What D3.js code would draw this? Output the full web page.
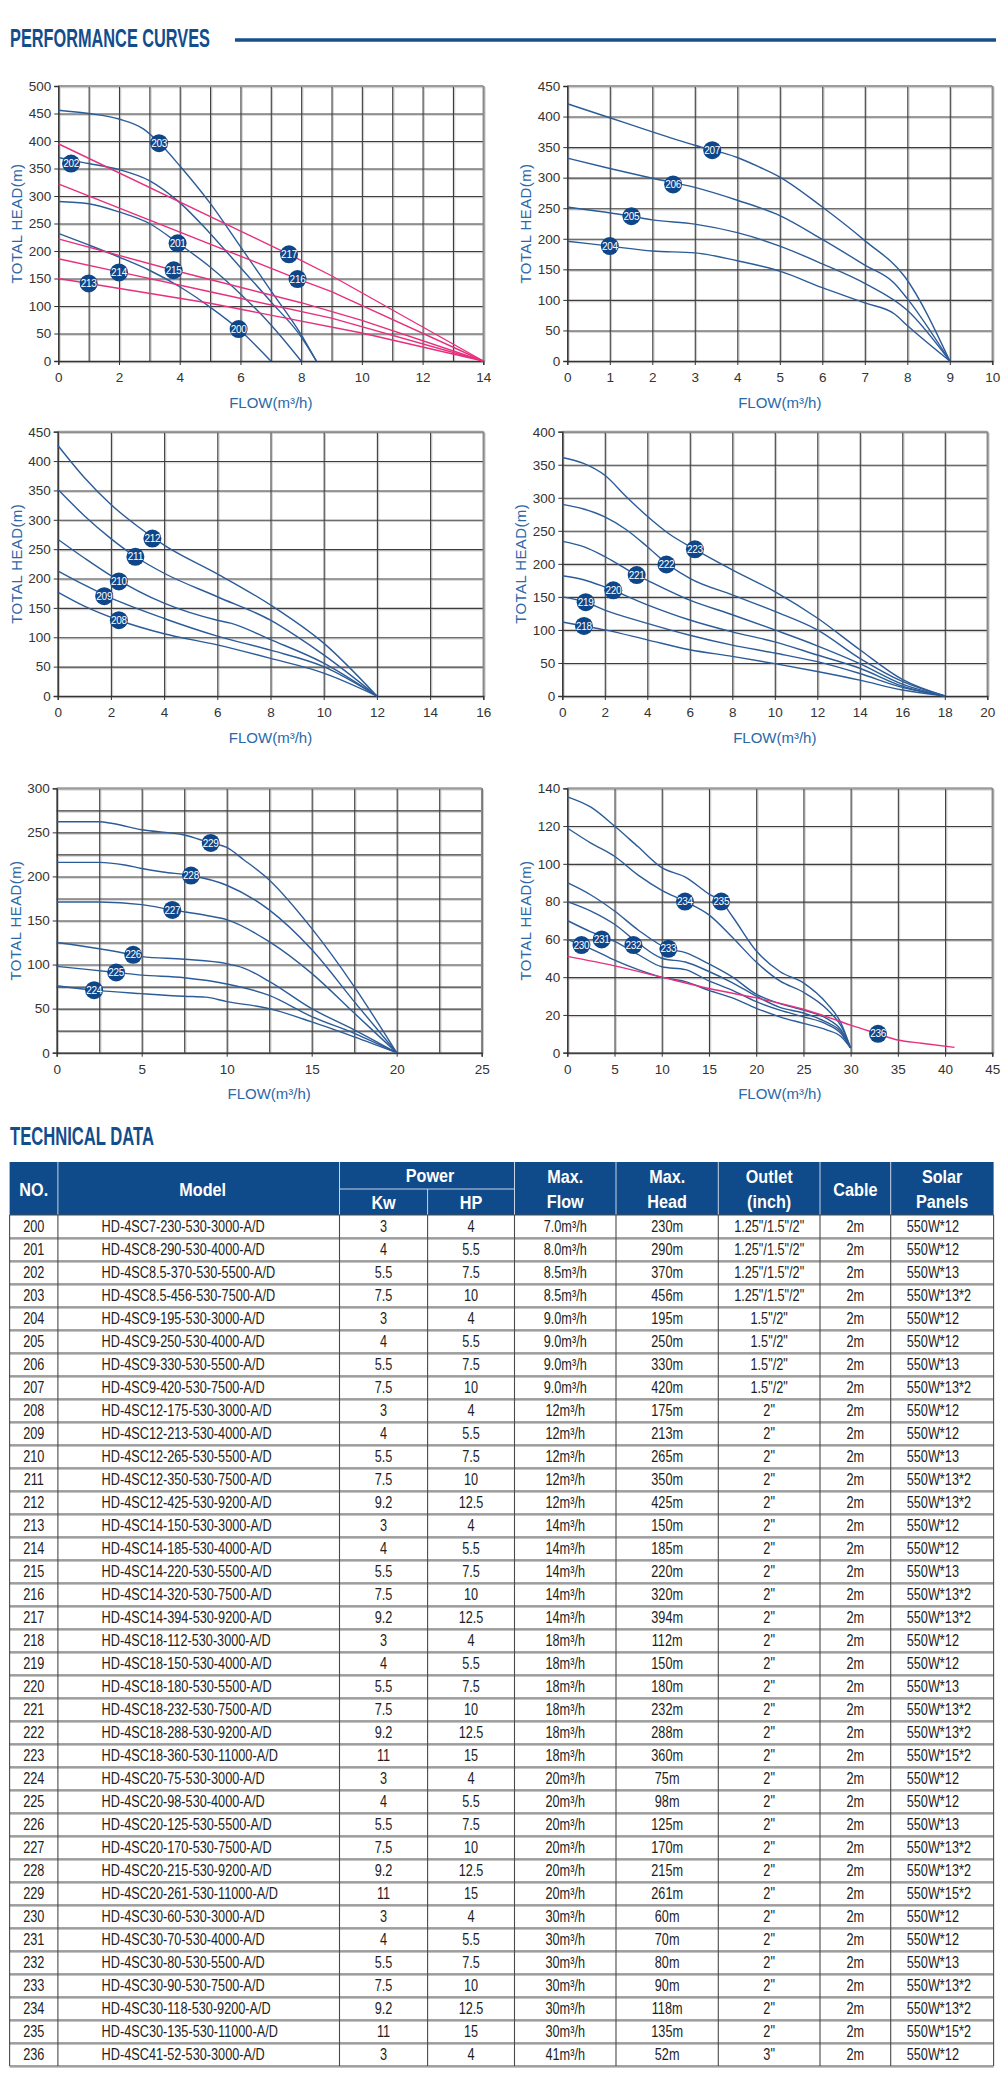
<!DOCTYPE html>
<html><head><meta charset="utf-8">
<script src="https://cdn.jsdelivr.net/npm/d3@7"></script>
<style>
body{margin:0;background:#fff;}
svg{display:block;}
</style></head><body>
<script>
// ---------- PERFORMANCE CURVE DATA (flow m³/h, head m) ----------
// Chart 1 (4SC7 / 4SC8 / 4SC8.5 blue, 4SC14 pink)
const c1_200 = [[0,232],[1,211],[2,189],[3,165],[4,135],[5,98],[6,55],[7,0]];
const c1_201 = [[0,290],[1,286],[2,271],[3,250],[4,212],[5,171],[6,122],[7,66],[8,0]];
const c1_202 = [[0,370],[0.5,364],[1,359],[2,348],[3,328],[4,288],[5,232],[6,170],[7,108],[8,44],[8.5,0]];
const c1_203 = [[0,456],[1,450],[2,440],[2.8,422],[3.3,398],[4,355],[5,287],[6,208],[7,128],[8,48],[8.5,0]];
const c1_213 = [[0,150],[5,105],[10,51],[14,0]];
const c1_214 = [[0,186],[2,162],[5,126],[9,78],[14,0]];
const c1_215 = [[0,222],[3.8,165],[8,106],[10,74],[14,0]];
const c1_216 = [[0,322],[7.9,149],[9,126],[14,0]];
const c1_217 = [[0,395],[7.6,194],[9,155],[14,0]];
const lab1 = [["203",3.32,396],["202",0.42,359],["201",3.93,214],["200",5.94,58],["217",7.6,194],["216",7.88,149],["215",3.8,165],["214",2,161],["213",1,141]];

// Chart 2 (4SC9)
const c2_204 = [[0,196],[1,188],[2,180],[3,177],[4,164],[5,147],[6,120],[7,95],[7.7,77],[8,58],[9,0]];
const c2_205 = [[0,252],[1.5,237],[2,231],[3,224],[4,210],[5,188],[6,159],[7,127],[8,83],[9,0]];
const c2_206 = [[0,332],[1,315],[2,299],[3,284],[4,263],[5,238],[6,199],[7,157],[7.7,127],[8,102],[9,0]];
const c2_207 = [[0,421],[1,398],[2,375],[3,353],[4,333],[4.5,318],[5,301],[6,252],[7,197],[7.95,137],[9,0]];
const lab2 = [["207",3.41,345],["206",2.49,289],["205",1.51,237],["204",1,188]];

// Chart 3 (4SC12)
const c3_208 = [[0,177],[1,153],[2.3,129],[4,106],[6,87],[8,64],[10,39],[12,0]];
const c3_209 = [[0,213],[1,189],[2,167],[4,132],[6,102],[8,78],[10,50],[12,0]];
const c3_210 = [[0,267],[1,235],[2,205],[4,158],[6,129],[6.5,124],[8,96],[10,56],[12,0]];
const c3_211 = [[0,352],[1,307],[2,268],[3,235],[4,209],[6,169],[8,129],[9,101],[10,70],[12,0]];
const c3_212 = [[0,427],[1,372],[2,326],[3,289],[4,257],[6,208],[8,155],[10,90],[12,0]];
const lab3 = [["212",3.56,268],["211",2.92,237],["210",2.3,195],["209",1.75,170],["208",2.3,129]];

// Chart 4 (4SC18)
const c4_218 = [[0,112],[1,106],[2,100],[4,85],[6,70],[8,60],[10,49],[12,37],[14,24],[16,9],[18,0]];
const c4_219 = [[0,150],[1.1,142],[2,130],[4,110],[6,92],[8,77],[10,65],[12,52],[14,34],[16,13],[18,0]];
const c4_220 = [[0,182],[1,176],[2,165],[4,138],[6,115],[8,97],[10,82],[12,62],[14,42],[16,15],[18,0]];
const c4_221 = [[0,234],[1,226],[2,211],[3.5,183],[4,175],[6,145],[8,123],[10,100],[12,76],[14,49],[16,18],[18,0]];
const c4_222 = [[0,290],[1,283],[2,271],[3,252],[4,226],[4.9,201],[6,178],[8,153],[10,128],[12,100],[14,57],[16,22],[18,0]];
const c4_223 = [[0,361],[1,352],[2,334],[3,302],[4,272],[5,246],[6.24,222],[8,191],[10,158],[12,118],[14,70],[16,25],[18,0]];
const lab4 = [["223",6.24,222],["222",4.9,199],["221",3.5,183],["220",2.4,160],["219",1.1,142],["218",1.02,106]];

// Chart 5 (4SC20)
const c5_224 = [[0,76],[2.2,71],[5,67],[7.5,64],[8.75,63],[10,58],[12.5,50],[15,35],[17.5,18],[20,0]];
const c5_225 = [[0,98],[3.5,91],[5,88],[7.5,85],[10,78],[12.5,65],[15,41],[17.5,22],[20,0]];
const c5_226 = [[0,125],[2.5,118],[4.5,111],[5,109],[7.5,106],[10,101],[11,96],[12.5,81],[15,50],[17.5,26],[20,0]];
const c5_227 = [[0,171],[2.5,171],[5,168],[6.8,162],[8.75,156],[10,151],[12.5,126],[15,90],[17.5,45],[20,0]];
const c5_228 = [[0,216],[2.5,216],[4,213],[5,209],[6.25,205],[7.9,201],[10,190],[12.5,162],[15,117],[17.5,58],[20,0]];
const c5_229 = [[0,262],[2.5,262],[3.3,260],[5,253],[7.5,247],[9.06,238],[10,233],[11,219],[12.5,196],[15,141],[17.5,75],[20,0]];
const lab5 = [["229",9.06,238],["228",7.9,201],["227",6.8,162],["226",4.5,111],["225",3.5,91],["224",2.2,71]];

// Chart 6 (4SC30 blue, 4SC41 pink)
const c6_230 = [[0,60],[2.5,55],[5,49],[7.5,44],[10,40],[12.5,37.6],[15,33],[17.5,29],[20,23.5],[22.5,19],[25,15.5],[27.5,12],[29,8.5],[30,2.5]];
const c6_231 = [[0,70],[2.5,64],[5,59],[7.5,52],[10,45.5],[12.5,44],[15,38],[17.5,33],[20,27],[22.5,22.5],[25,19],[27.5,15],[29,10],[30,2.5]];
const c6_232 = [[0,80],[2.5,75],[5,68],[7.5,58],[10,50],[12.5,48],[15,43],[17.5,37],[20,30],[22.5,24],[25,21],[27.5,16],[29,11],[30,2.5]];
const c6_233 = [[0,90],[2.5,83.5],[5,75],[7.5,65],[10.7,55],[12.5,53],[15,47],[17.5,40],[20,31],[22.5,26],[25,22.5],[27.5,18],[29,12],[30,2.5]];
const c6_234 = [[0,119],[2.5,111],[5,104],[7.5,94],[10,86],[12.5,80],[15,73],[17.5,61],[20,48],[22.5,38],[25,32],[27.5,23],[29,14],[30,2.5]];
const c6_235 = [[0,135.5],[2.5,130],[5,120],[7.5,109],[10,98],[12.5,93],[15,84],[16.3,80],[17.5,72],[20,54],[22.5,43],[25,37],[27.5,26],[29,15.5],[30,2.5]];
const c6_236 = [[0,51],[5,46],[10,40],[15,34],[20,29],[25,23],[27.5,19],[30,14.6],[32.9,10],[35,6.7],[37.5,5],[41,2.8]];
const lab6 = [["235",16.3,80],["234",12.46,80],["233",10.7,55],["232",7,57],["231",3.64,60],["230",1.5,57],["236",32.9,10]];

// ---------- TECHNICAL DATA TABLE ----------
const tNo = ["200","201","202","203","204","205","206","207","208","209","210","211","212","213","214","215","216","217","218","219","220","221","222","223","224","225","226","227","228","229","230","231","232","233","234","235","236"];
const tModel = ["HD-4SC7-230-530-3000-A/D","HD-4SC8-290-530-4000-A/D","HD-4SC8.5-370-530-5500-A/D","HD-4SC8.5-456-530-7500-A/D","HD-4SC9-195-530-3000-A/D","HD-4SC9-250-530-4000-A/D","HD-4SC9-330-530-5500-A/D","HD-4SC9-420-530-7500-A/D","HD-4SC12-175-530-3000-A/D","HD-4SC12-213-530-4000-A/D","HD-4SC12-265-530-5500-A/D","HD-4SC12-350-530-7500-A/D","HD-4SC12-425-530-9200-A/D","HD-4SC14-150-530-3000-A/D","HD-4SC14-185-530-4000-A/D","HD-4SC14-220-530-5500-A/D","HD-4SC14-320-530-7500-A/D","HD-4SC14-394-530-9200-A/D","HD-4SC18-112-530-3000-A/D","HD-4SC18-150-530-4000-A/D","HD-4SC18-180-530-5500-A/D","HD-4SC18-232-530-7500-A/D","HD-4SC18-288-530-9200-A/D","HD-4SC18-360-530-11000-A/D","HD-4SC20-75-530-3000-A/D","HD-4SC20-98-530-4000-A/D","HD-4SC20-125-530-5500-A/D","HD-4SC20-170-530-7500-A/D","HD-4SC20-215-530-9200-A/D","HD-4SC20-261-530-11000-A/D","HD-4SC30-60-530-3000-A/D","HD-4SC30-70-530-4000-A/D","HD-4SC30-80-530-5500-A/D","HD-4SC30-90-530-7500-A/D","HD-4SC30-118-530-9200-A/D","HD-4SC30-135-530-11000-A/D","HD-4SC41-52-530-3000-A/D"];
const tKw = ["3","4","5.5","7.5","3","4","5.5","7.5","3","4","5.5","7.5","9.2","3","4","5.5","7.5","9.2","3","4","5.5","7.5","9.2","11","3","4","5.5","7.5","9.2","11","3","4","5.5","7.5","9.2","11","3"];
const tHp = ["4","5.5","7.5","10","4","5.5","7.5","10","4","5.5","7.5","10","12.5","4","5.5","7.5","10","12.5","4","5.5","7.5","10","12.5","15","4","5.5","7.5","10","12.5","15","4","5.5","7.5","10","12.5","15","4"];
const tFlow = ["7.0m³/h","8.0m³/h","8.5m³/h","8.5m³/h","9.0m³/h","9.0m³/h","9.0m³/h","9.0m³/h","12m³/h","12m³/h","12m³/h","12m³/h","12m³/h","14m³/h","14m³/h","14m³/h","14m³/h","14m³/h","18m³/h","18m³/h","18m³/h","18m³/h","18m³/h","18m³/h","20m³/h","20m³/h","20m³/h","20m³/h","20m³/h","20m³/h","30m³/h","30m³/h","30m³/h","30m³/h","30m³/h","30m³/h","41m³/h"];
const tHead = ["230m","290m","370m","456m","195m","250m","330m","420m","175m","213m","265m","350m","425m","150m","185m","220m","320m","394m","112m","150m","180m","232m","288m","360m","75m","98m","125m","170m","215m","261m","60m","70m","80m","90m","118m","135m","52m"];
const tOutlet = ['1.25"/1.5"/2"','1.25"/1.5"/2"','1.25"/1.5"/2"','1.25"/1.5"/2"','1.5"/2"','1.5"/2"','1.5"/2"','1.5"/2"','2"','2"','2"','2"','2"','2"','2"','2"','2"','2"','2"','2"','2"','2"','2"','2"','2"','2"','2"','2"','2"','2"','2"','2"','2"','2"','2"','2"','3"'];
const tCable = ["2m","2m","2m","2m","2m","2m","2m","2m","2m","2m","2m","2m","2m","2m","2m","2m","2m","2m","2m","2m","2m","2m","2m","2m","2m","2m","2m","2m","2m","2m","2m","2m","2m","2m","2m","2m","2m"];
const tSolar = ["550W*12","550W*12","550W*13","550W*13*2","550W*12","550W*12","550W*13","550W*13*2","550W*12","550W*12","550W*13","550W*13*2","550W*13*2","550W*12","550W*12","550W*13","550W*13*2","550W*13*2","550W*12","550W*12","550W*13","550W*13*2","550W*13*2","550W*15*2","550W*12","550W*12","550W*13","550W*13*2","550W*13*2","550W*15*2","550W*12","550W*12","550W*13","550W*13*2","550W*13*2","550W*15*2","550W*12"];

// ---------- STYLE ----------
const BLUE = "#2c5c98", PINK = "#e6307e", NAVY = "#0f4a8a", TITLE = "#2b68a8";
const FONT = "'Liberation Sans', Arial, sans-serif";
const NARROW = "'Liberation Sans', Arial, sans-serif";

const svg = d3.select("body").append("svg").attr("width",1008).attr("height",2091);

// Section titles
function sectionTitle(txt, x, y, len){
  svg.append("text").attr("x",x).attr("y",y).text(txt)
    .attr("font-family",NARROW).attr("font-weight","bold").attr("font-size",25)
    .attr("fill","#124d8c").attr("textLength",len).attr("lengthAdjust","spacingAndGlyphs");
}
sectionTitle("PERFORMANCE CURVES", 10, 47, 200);
svg.append("line").attr("x1",235).attr("x2",996).attr("y1",40).attr("y2",40).attr("stroke","#174f8c").attr("stroke-width",3.5);

const charts = [
  {l:58.3,r:483.3,t:86,b:361,xMax:14,xG:1,xL:2,yMax:500,yG:50,yL:50,
   series:[[c1_200,BLUE,1],[c1_201,BLUE,1],[c1_202,BLUE,1],[c1_203,BLUE,1],[c1_213,PINK,0],[c1_214,PINK,0],[c1_215,PINK,0],[c1_216,PINK,0],[c1_217,PINK,0]],labels:lab1},
  {l:567.3,r:992.3,t:86,b:361,xMax:10,xG:1,xL:1,yMax:450,yG:50,yL:50,
   series:[[c2_204,BLUE,1],[c2_205,BLUE,1],[c2_206,BLUE,1],[c2_207,BLUE,1]],labels:lab2},
  {l:57.7,r:483.3,t:431.7,b:696,xMax:16,xG:2,xL:2,yMax:450,yG:50,yL:50,
   series:[[c3_208,BLUE,1],[c3_209,BLUE,1],[c3_210,BLUE,1],[c3_211,BLUE,1],[c3_212,BLUE,1]],labels:lab3},
  {l:562.3,r:987.3,t:431.7,b:696,xMax:20,xG:2,xL:2,yMax:400,yG:50,yL:50,
   series:[[c4_218,BLUE,1],[c4_219,BLUE,1],[c4_220,BLUE,1],[c4_221,BLUE,1],[c4_222,BLUE,1],[c4_223,BLUE,1]],labels:lab4},
  {l:56.7,r:481.7,t:788.3,b:1052.7,xMax:25,xG:2.5,xL:5,yMax:300,yG:25,yL:50,
   series:[[c5_224,BLUE,1],[c5_225,BLUE,1],[c5_226,BLUE,1],[c5_227,BLUE,1],[c5_228,BLUE,1],[c5_229,BLUE,1]],labels:lab5},
  {l:567.3,r:992.3,t:788.3,b:1052.7,xMax:45,xG:5,xL:5,yMax:140,yG:20,yL:20,
   series:[[c6_230,BLUE,1],[c6_231,BLUE,1],[c6_232,BLUE,1],[c6_233,BLUE,1],[c6_234,BLUE,1],[c6_235,BLUE,1],[c6_236,PINK,1]],labels:lab6}
];

function drawChart(c){
  const x = d3.scaleLinear().domain([0,c.xMax]).range([c.l,c.r]);
  const y = d3.scaleLinear().domain([0,c.yMax]).range([c.b,c.t]);
  const g = svg.append("g");
  const W = c.r-c.l, H = c.b-c.t;
  const gx = d3.range(0,c.xMax+1e-6,c.xG), gy = d3.range(0,c.yMax+1e-6,c.yG);
  // soft shadow lines
  g.append("g").attr("transform",`translate(0,${c.b+1.2})`)
    .call(d3.axisBottom(x).tickValues(gx).tickSize(-H).tickFormat(""))
    .call(a=>{a.select(".domain").remove();a.selectAll("line").attr("stroke","#cfcfcf").attr("stroke-width",1.2).attr("transform","translate(1.2,0)");});
  g.append("g").attr("transform",`translate(${c.l},1.2)`)
    .call(d3.axisLeft(y).tickValues(gy).tickSize(-W).tickFormat(""))
    .call(a=>{a.select(".domain").remove();a.selectAll("line").attr("stroke","#cfcfcf").attr("stroke-width",1.2);});
  // grid
  g.append("g").attr("transform",`translate(0,${c.b})`)
    .call(d3.axisBottom(x).tickValues(gx).tickSize(-H).tickFormat(""))
    .call(a=>{a.select(".domain").remove();a.selectAll("line").attr("stroke","#3d3d3d").attr("stroke-width",1.1);});
  g.append("g").attr("transform",`translate(${c.l},0)`)
    .call(d3.axisLeft(y).tickValues(gy).tickSize(-W).tickFormat(""))
    .call(a=>{a.select(".domain").remove();a.selectAll("line").attr("stroke","#3d3d3d").attr("stroke-width",1.1);});
  // frame top/right lighter
  g.append("line").attr("x1",c.l).attr("x2",c.r).attr("y1",c.t).attr("y2",c.t).attr("stroke","#9c9c9c").attr("stroke-width",2);
  g.append("line").attr("x1",c.r).attr("x2",c.r).attr("y1",c.t).attr("y2",c.b).attr("stroke","#8a8a8a").attr("stroke-width",1.5);
  // axes with labels
  const ax = g.append("g").attr("transform",`translate(0,${c.b})`)
    .call(d3.axisBottom(x).tickValues(d3.range(0,c.xMax+1e-6,c.xL)).tickSize(4).tickPadding(7.5).tickFormat(d3.format("d")));
  const ay = g.append("g").attr("transform",`translate(${c.l},0)`)
    .call(d3.axisLeft(y).tickValues(d3.range(0,c.yMax+1e-6,c.yL)).tickSize(4).tickPadding(3).tickFormat(d3.format("d")));
  [ax,ay].forEach(a=>{
    a.select(".domain").attr("stroke","#333").attr("stroke-width",1.3);
    a.selectAll(".tick line").attr("stroke","#333");
    a.selectAll("text").attr("font-family",FONT).attr("font-size",13.5).attr("fill","#333");
  });
  // curves
  c.series.forEach(([d,col,smooth])=>{
    const line = d3.line().x(p=>x(p[0])).y(p=>y(p[1])).curve(smooth?d3.curveMonotoneX:d3.curveLinear);
    g.append("path").attr("d",line(d)).attr("fill","none").attr("stroke",col).attr("stroke-width",1.4);
  });
  // labels
  const lg = g.selectAll(".lab").data(c.labels).join("g").attr("transform",d=>`translate(${x(d[1])},${y(d[2])})`);
  lg.append("circle").attr("r",9).attr("fill","#0f4689");
  lg.append("text").text(d=>d[0]).attr("text-anchor","middle").attr("dy","0.36em")
    .attr("font-family",FONT).attr("font-size",10).attr("fill","#fff").attr("letter-spacing",-0.3);
  // axis titles
  g.append("text").text("FLOW(m³/h)").attr("x",(c.l+c.r)/2).attr("y",c.b+46.5)
    .attr("text-anchor","middle").attr("font-family",FONT).attr("font-size",15).attr("fill",TITLE);
  g.append("text").text("TOTAL HEAD(m)").attr("transform",`translate(${c.l-36},${(c.t+c.b)/2}) rotate(-90)`)
    .attr("text-anchor","middle").attr("font-family",FONT).attr("font-size",15).attr("fill",TITLE).attr("letter-spacing",0.4);
}
charts.forEach(drawChart);

// ---------- TABLE ----------
sectionTitle("TECHNICAL DATA", 10, 1145, 144);
const colX = [9.6,57.9,339.5,427.6,514.5,616,718.3,820,890.7,993.6];
const hTop = 1162, hMid = 1189, hBot = 1215, rowH = 23;
const tbl = svg.append("g");
tbl.append("rect").attr("x",colX[0]).attr("y",hTop).attr("width",colX[9]-colX[0]).attr("height",hBot-hTop).attr("fill",NAVY);
// header separators
[1,2,4,5,6,7,8].forEach(i=>{
  tbl.append("line").attr("x1",colX[i]).attr("x2",colX[i]).attr("y1",hTop).attr("y2",hBot).attr("stroke","#c9d4e4").attr("stroke-width",1);
});
tbl.append("line").attr("x1",colX[3]).attr("x2",colX[3]).attr("y1",hMid).attr("y2",hBot).attr("stroke","#c9d4e4").attr("stroke-width",1);
tbl.append("line").attr("x1",colX[2]).attr("x2",colX[4]).attr("y1",hMid).attr("y2",hMid).attr("stroke","#c9d4e4").attr("stroke-width",1.2);
function hText(t,xc,yc){
  tbl.append("text").text(t).attr("transform",`translate(${xc},${yc}) scale(0.9,1.05)`).attr("text-anchor","middle").attr("dy","0.36em")
    .attr("font-family",NARROW).attr("font-weight","bold").attr("font-size",18).attr("fill","#fff");
}
const cx = i=>(colX[i]+colX[i+1])/2;
hText("NO.",cx(0),1189); hText("Model",cx(1)+4,1189);
hText("Power",(colX[2]+colX[4])/2+3,1175); hText("Kw",cx(2),1202); hText("HP",cx(3),1202);
hText("Max.",cx(4),1176); hText("Flow",cx(4),1201);
hText("Max.",cx(5),1176); hText("Head",cx(5),1201);
hText("Outlet",cx(6),1176); hText("(inch)",cx(6),1201);
hText("Cable",cx(7),1189);
hText("Solar",cx(8),1176); hText("Panels",cx(8),1201);

// body rows
const nRows = tNo.length;
const yBottom = hBot + nRows*rowH;
for(let i=0;i<=nRows;i++){
  const yy = hBot + i*rowH;
  if(i>0) tbl.append("line").attr("x1",colX[0]).attr("x2",colX[9]).attr("y1",yy+1.3).attr("y2",yy+1.3).attr("stroke","#c4c4c4").attr("stroke-width",1.2);
  tbl.append("line").attr("x1",colX[0]).attr("x2",colX[9]).attr("y1",yy).attr("y2",yy).attr("stroke","#4a4a4a").attr("stroke-width",1.1);
}
colX.forEach(xx=>{
  tbl.append("line").attr("x1",xx).attr("x2",xx).attr("y1",hBot).attr("y2",yBottom).attr("stroke","#4a4a4a").attr("stroke-width",1.1);
});
const cols = [
  [tNo, cx(0), "middle"],
  [tModel, 101.6, "start"],
  [tKw, cx(2), "middle"],
  [tHp, cx(3), "middle"],
  [tFlow, cx(4), "middle"],
  [tHead, cx(5), "middle"],
  [tOutlet, cx(6), "middle"],
  [tCable, cx(7), "middle"],
  [tSolar, 906.7, "start"]
];
cols.forEach(([arr,xx,anchor])=>{
  tbl.append("g").selectAll("text").data(arr).join("text")
    .text(d=>d).attr("transform",(d,i)=>`translate(${xx},${hBot+i*rowH+rowH/2}) scale(0.77,1)`).attr("dy","0.36em")
    .attr("text-anchor",anchor).attr("font-family",NARROW).attr("font-size",16.5).attr("fill","#1e1e1e");
});
</script></body></html>
